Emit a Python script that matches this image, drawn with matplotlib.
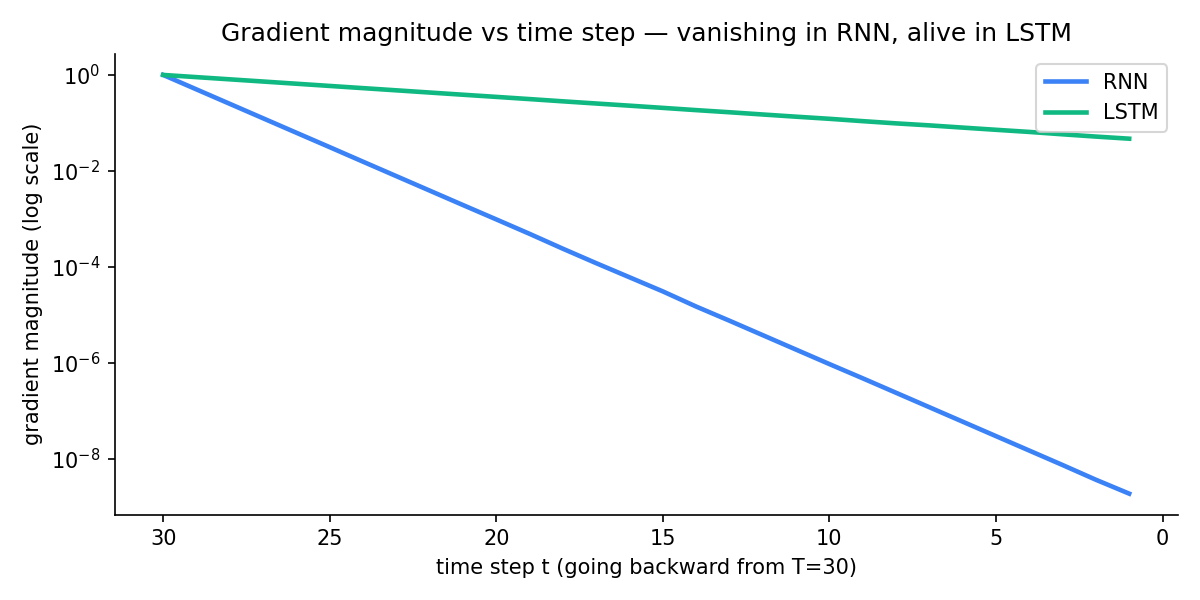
import matplotlib
matplotlib.use('Agg')
import matplotlib.pyplot as plt

# time steps going backward from T=30
steps = list(range(30, 0, -1))

# gradient magnitudes
rnn_grad = [1.0, 0.5, 0.25, 0.125, 0.0625, 0.0313, 0.0156, 0.0078, 0.0039, 0.00195,
            9.8e-4, 4.9e-4, 2.4e-4, 1.2e-4, 6.1e-5, 3.1e-5, 1.5e-5, 7.6e-6, 3.8e-6, 1.9e-6,
            9.5e-7, 4.8e-7, 2.4e-7, 1.2e-7, 6.0e-8, 3.0e-8, 1.5e-8, 7.5e-9, 3.7e-9, 1.9e-9]
lstm_grad = [1.0, 0.9, 0.81, 0.729, 0.656, 0.590, 0.531, 0.478, 0.430, 0.387,
             0.349, 0.314, 0.282, 0.254, 0.229, 0.206, 0.185, 0.167, 0.150, 0.135,
             0.122, 0.109, 0.098, 0.089, 0.080, 0.072, 0.065, 0.058, 0.052, 0.047]

fig, ax = plt.subplots(figsize=(8, 4), dpi=150)

ax.plot(steps, rnn_grad, color='#3b82f6', linewidth=2.2, label='RNN')
ax.plot(steps, lstm_grad, color='#10b981', linewidth=2.2, label='LSTM')

ax.set_yscale('log')
ax.invert_xaxis()

ax.set_xlabel('time step t (going backward from T=30)')
ax.set_ylabel('gradient magnitude (log scale)')
ax.set_title('Gradient magnitude vs time step \u2014 vanishing in RNN, alive in LSTM', fontsize=12)
ax.spines['top'].set_visible(False)
ax.spines['right'].set_visible(False)
ax.legend(loc='upper right')

plt.tight_layout()
plt.savefig('out.png')
